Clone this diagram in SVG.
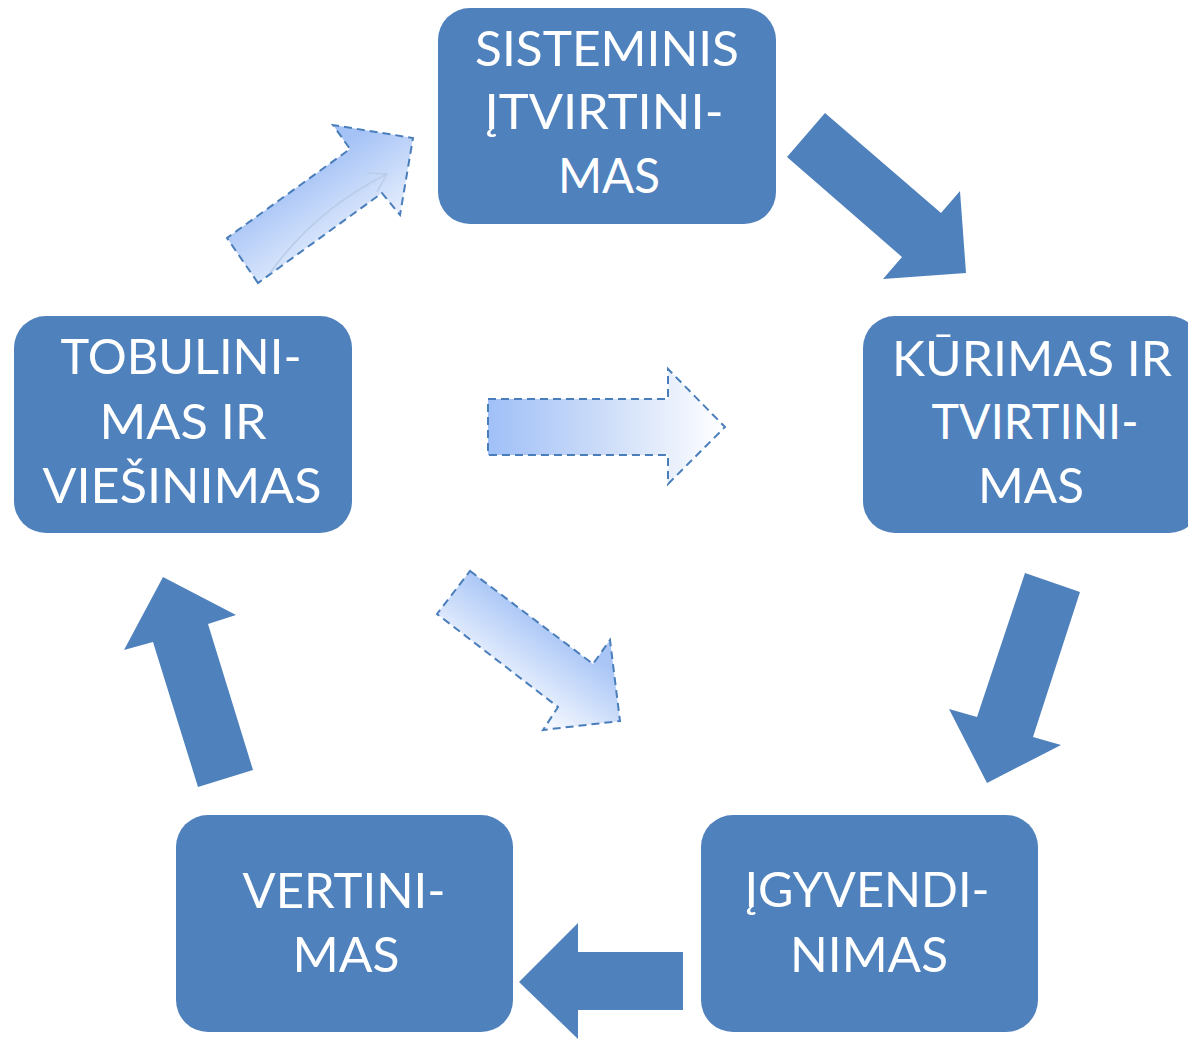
<svg xmlns="http://www.w3.org/2000/svg" width="1188" height="1040" viewBox="0 0 1188 1040">
<style>
.box{fill:#4F81BD}
.t{fill:#fff;font-family:Lato,"Open Sans","Liberation Sans",sans-serif;font-size:48px;text-anchor:middle}
.solid{fill:#4F81BD}
.dash{stroke:#4A7EBB;stroke-width:2;stroke-dasharray:8 5;stroke-linejoin:miter}
</style>
<defs>
<linearGradient id="gH" x1="488" y1="0" x2="725" y2="0" gradientUnits="userSpaceOnUse">
<stop offset="0" stop-color="#A0C0F8"/><stop offset="0.45" stop-color="#C9DAF8"/><stop offset="1" stop-color="#FFFFFF"/>
</linearGradient>
<linearGradient id="gTL" x1="330" y1="150" x2="390" y2="240" gradientUnits="userSpaceOnUse">
<stop offset="0" stop-color="#A4C2F6"/><stop offset="1" stop-color="#F2F6FE"/>
</linearGradient>
<linearGradient id="gLD" x1="560" y1="630" x2="510" y2="700" gradientUnits="userSpaceOnUse">
<stop offset="0" stop-color="#A8C5F6"/><stop offset="1" stop-color="#F6F9FF"/>
</linearGradient>
</defs>
<g id="connectors">
<polygon class="solid" points="825,113 941,213 960,191 966,273 883,279 902,257 787,157"/>
<polygon class="solid" points="1025,573 1080,592 1033,737 1061,745 987,783 949,709 977,717"/>
<polygon class="solid" points="519,982 578,923 578,952 683,952 683,1010 578,1010 578,1039"/>
<polygon class="solid" points="163,577 236,615 208,624 253,770 198,787 153,642 124,650"/>
<polygon class="dash" fill="url(#gTL)" points="258,283 227,238 350,149 333,125 413,138 400,215 382,193"/>
<path d="M270,273 Q315,210 387,174 M367,173 L387,174 L377,192" fill="none" stroke="#B9CDE8" stroke-width="1.5"/>
<polygon class="dash" fill="url(#gH)" points="488,399 668,399 668,369 725,427 668,484 668,455 488,455"/>
<polygon class="dash" fill="url(#gLD)" points="470,571 593,664 610,640 620,721 543,730 558,707 437,614"/>
</g>
<g id="node-sisteminis">
<rect class="box" x="438" y="8" width="338" height="216" rx="32"/>
<text class="t" x="607" y="66" textLength="264" lengthAdjust="spacingAndGlyphs">SISTEMINIS</text>
<text class="t" x="604" y="129" textLength="239" lengthAdjust="spacingAndGlyphs">ĮTVIRTINI-</text>
<text class="t" x="609" y="193" textLength="102" lengthAdjust="spacingAndGlyphs">MAS</text>
</g>
<g id="node-kurimas">
<rect class="box" x="863" y="316" width="338" height="217" rx="32"/>
<text class="t" x="1032" y="376" textLength="280" lengthAdjust="spacingAndGlyphs">KŪRIMAS IR</text>
<text class="t" x="1035" y="439" textLength="207" lengthAdjust="spacingAndGlyphs">TVIRTINI-</text>
<text class="t" x="1031" y="503" textLength="106" lengthAdjust="spacingAndGlyphs">MAS</text>
</g>
<g id="node-igyvendinimas">
<rect class="box" x="701" y="815" width="337" height="217" rx="32"/>
<text class="t" x="867" y="907" textLength="245" lengthAdjust="spacingAndGlyphs">ĮGYVENDI-</text>
<text class="t" x="869" y="972" textLength="158" lengthAdjust="spacingAndGlyphs">NIMAS</text>
</g>
<g id="node-vertinimas">
<rect class="box" x="176" y="815" width="337" height="217" rx="32"/>
<text class="t" x="344" y="908" textLength="203" lengthAdjust="spacingAndGlyphs">VERTINI-</text>
<text class="t" x="346" y="972" textLength="107" lengthAdjust="spacingAndGlyphs">MAS</text>
</g>
<g id="node-tobulinimas">
<rect class="box" x="14" y="316" width="338" height="217" rx="32"/>
<text class="t" x="181" y="374" textLength="241" lengthAdjust="spacingAndGlyphs">TOBULINI-</text>
<text class="t" x="183" y="439" textLength="167" lengthAdjust="spacingAndGlyphs">MAS IR</text>
<text class="t" x="182" y="503" textLength="279" lengthAdjust="spacingAndGlyphs">VIEŠINIMAS</text>
</g>
</svg>
